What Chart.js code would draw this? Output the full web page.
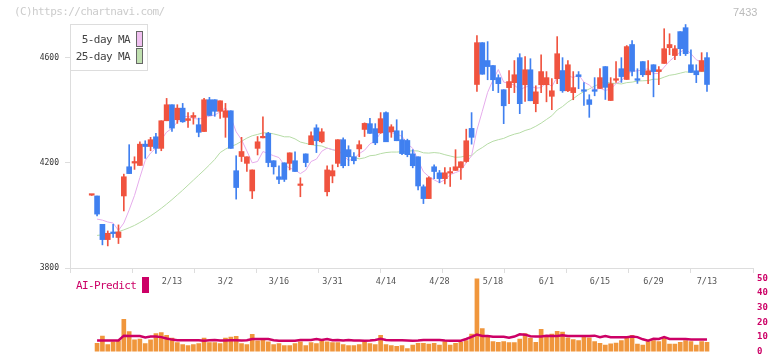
<!DOCTYPE html>
<html>
<head>
<meta charset="utf-8">
<script src="https://cdn.jsdelivr.net/npm/chart.js@4.4.1/dist/chart.umd.min.js"></script>
<style>
  body { margin: 0; background: #fff; }
  #wrap { position: relative; width: 772px; height: 361px; overflow: hidden; }
  canvas { position: absolute; left: 0; }
  .txt { position: absolute; font-family: 'DejaVu Sans Mono', monospace; font-size: 11px; line-height: 12px; letter-spacing: -0.6px; white-space: nowrap; }
  .sw { position: absolute; box-sizing: border-box; width: 7px; height: 16px; border: 1px solid #666; }
</style>
</head>
<body>
<div id="wrap">
  <canvas id="main" width="772" height="300" style="top:0"></canvas>
  <canvas id="vol" width="772" height="99" style="top:262px"></canvas>

  <div class="txt" style="left:14px;top:6px;color:#ccc">(C)https://chartnavi.com/</div>
  <div style="position:absolute;left:733px;top:6px;font-family:'Liberation Sans',sans-serif;font-size:11px;color:#bbb">7433</div>

  <div style="position:absolute;left:70px;top:24px;width:78px;height:47px;box-sizing:border-box;border:1px solid #ddd;background:#fff"></div>
  <div class="txt" style="left:0;width:130px;text-align:right;top:34px;color:#444">5-day MA</div>
  <div class="txt" style="left:0;width:130px;text-align:right;top:51px;color:#444">25-day MA</div>
  <div class="sw" style="left:136px;top:31px;background:#f0c0f0"></div>
  <div class="sw" style="left:136px;top:48px;background:#c0e0b0"></div>

  <div class="txt" style="left:76px;top:280px;color:#cc0066">AI-Predict</div>
  <div style="position:absolute;left:142px;top:277px;width:7px;height:16px;background:#cc0066"></div>
</div>
<script>
// tick labels under the price chart (index of the trading day -> label)
const tickDays = [15, 25, 35, 45, 55, 65, 75, 85, 95, 105, 115];
const tickLabels = ['2/13', '3/2', '3/16', '3/31', '4/14', '4/28', '5/18', '6/1', '6/15', '6/29', '7/13'];
const priceTicks = [3800, 4200, 4600];

const opens = [
  4077, 4074, 3966, 3908, 3937, 3916, 4074, 4185, 4199, 4190,
  4271, 4262, 4299, 4255, 4360, 4421, 4364, 4408, 4361, 4373,
  4345, 4319, 4440, 4440, 4396, 4373, 4398, 4170, 4224, 4198,
  4093, 4255, 4295, 4312, 4208, 4147, 4200, 4198, 4208, 4114,
  4234, 4269, 4333, 4280, 4090, 4150, 4198, 4288, 4250, 4223,
  4253, 4327, 4349, 4330, 4314, 4391, 4318, 4322, 4288, 4285,
  4234, 4223, 4109, 4064, 4185, 4162, 4140, 4161, 4171, 4182,
  4205, 4331, 4498, 4657, 4589, 4570, 4524, 4478, 4486, 4505,
  4600, 4497, 4554, 4425, 4497, 4497, 4453, 4520, 4551, 4474,
  4467, 4535, 4478, 4440, 4478, 4483, 4566, 4437, 4514, 4558,
  4517, 4650, 4520, 4585, 4535, 4573, 4547, 4578, 4638, 4608,
  4699, 4714, 4573, 4550, 4548, 4600
];
const highs = [
  4079, 4074, 3966, 3941, 3966, 3964, 4157, 4269, 4223, 4280,
  4284, 4297, 4312, 4360, 4445, 4421, 4421, 4426, 4391, 4391,
  4370, 4445, 4449, 4440, 4436, 4426, 4398, 4227, 4297, 4223,
  4173, 4300, 4375, 4316, 4208, 4189, 4200, 4238, 4242, 4143,
  4234, 4318, 4345, 4330, 4189, 4192, 4288, 4295, 4265, 4239,
  4284, 4352, 4369, 4349, 4391, 4394, 4345, 4364, 4322, 4290,
  4250, 4223, 4116, 4147, 4192, 4171, 4182, 4182, 4250, 4204,
  4328, 4391, 4684, 4657, 4661, 4570, 4535, 4478, 4551, 4589,
  4615, 4604, 4596, 4493, 4611, 4547, 4520, 4680, 4600, 4589,
  4547, 4547, 4505, 4459, 4524, 4558, 4566, 4524, 4585, 4600,
  4646, 4665, 4558, 4585, 4589, 4573, 4566, 4710, 4691, 4646,
  4699, 4726, 4630, 4573, 4619, 4619
];
const lows = [
  4076, 3998, 3888, 3884, 3916, 3893, 4017, 4159, 4175, 4190,
  4217, 4246, 4236, 4246, 4360, 4319, 4350, 4354, 4335, 4347,
  4299, 4319, 4380, 4377, 4369, 4297, 4255, 4062, 4205, 4167,
  4064, 4230, 4295, 4185, 4157, 4121, 4129, 4173, 4167, 4071,
  4185, 4269, 4239, 4276, 4074, 4124, 4185, 4181, 4189, 4196,
  4223, 4300, 4312, 4269, 4312, 4280, 4297, 4284, 4231, 4223,
  4181, 4097, 4045, 4064, 4140, 4124, 4120, 4110, 4171, 4137,
  4202, 4271, 4472, 4537, 4516, 4474, 4467, 4349, 4425, 4467,
  4387, 4434, 4436, 4394, 4467, 4432, 4402, 4501, 4468, 4471,
  4440, 4482, 4418, 4373, 4455, 4483, 4441, 4437, 4506, 4506,
  4517, 4531, 4502, 4528, 4501, 4451, 4497, 4578, 4611, 4592,
  4608, 4608, 4544, 4505, 4548, 4472
];
const closes = [
  4077, 4005, 3908, 3932, 3931, 3937, 4147, 4159, 4205, 4271,
  4262, 4288, 4255, 4360, 4421, 4332, 4408, 4356, 4368, 4380,
  4316, 4440, 4380, 4396, 4436, 4398, 4255, 4106, 4243, 4223,
  4173, 4280, 4298, 4201, 4185, 4137, 4137, 4238, 4167, 4116,
  4201, 4303, 4284, 4318, 4173, 4170, 4288, 4189, 4223, 4208,
  4269, 4350, 4312, 4276, 4368, 4280, 4337, 4284, 4235, 4231,
  4189, 4112, 4064, 4143, 4167, 4140, 4162, 4163, 4185, 4204,
  4284, 4297, 4657, 4537, 4566, 4516, 4501, 4417, 4509, 4535,
  4425, 4554, 4436, 4470, 4547, 4524, 4474, 4615, 4474, 4573,
  4486, 4528, 4472, 4422, 4472, 4524, 4487, 4501, 4520, 4528,
  4642, 4548, 4514, 4535, 4550, 4547, 4554, 4634, 4650, 4634,
  4634, 4615, 4544, 4535, 4589, 4498
];
const ma5 = [
  null, 3986, 3982, 3975, 3971, 3943, 3971, 4021, 4076, 4144,
  4209, 4237, 4256, 4287, 4317, 4331, 4355, 4375, 4377, 4369,
  4366, 4372, 4377, 4382, 4394, 4410, 4373, 4318, 4288, 4245,
  4200, 4205, 4243, 4235, 4227, 4220, 4192, 4180, 4173, 4159,
  4172, 4205, 4214, 4244, 4256, 4250, 4247, 4228, 4209, 4216,
  4235, 4248, 4272, 4283, 4315, 4317, 4315, 4309, 4301, 4273,
  4255, 4210, 4166, 4148, 4135, 4125, 4135, 4155, 4163, 4171,
  4200, 4227, 4325, 4396, 4468, 4515, 4555, 4507, 4502, 4496,
  4477, 4488, 4492, 4484, 4486, 4506, 4490, 4526, 4527, 4532,
  4524, 4535, 4507, 4496, 4476, 4484, 4475, 4481, 4501, 4512,
  4536, 4548, 4550, 4553, 4558, 4539, 4540, 4564, 4587, 4604,
  4621, 4633, 4615, 4592, 4583, 4556
];
const ma25 = [
  null, 3924, 3926, 3929, 3933, 3938, 3945, 3953, 3962, 3973,
  3985, 3998, 4012, 4027, 4043, 4060, 4078, 4096, 4115, 4134,
  4153, 4172, 4192, 4213, 4239, 4252, 4262, 4270, 4282, 4294,
  4303, 4308, 4314, 4314, 4310, 4305, 4299, 4299, 4291, 4279,
  4274, 4269, 4266, 4264, 4256, 4250, 4244, 4237, 4230, 4221,
  4215, 4219, 4227, 4229, 4235, 4239, 4241, 4241, 4242, 4244,
  4246, 4245, 4238, 4237, 4239, 4237, 4231, 4226, 4221, 4222,
  4227, 4227, 4246, 4258, 4272, 4282, 4288, 4293, 4302, 4309,
  4314, 4323, 4329, 4339, 4351, 4365, 4379, 4401, 4414, 4431,
  4444, 4459, 4471, 4481, 4492, 4501, 4509, 4503, 4502, 4500,
  4505, 4507, 4511, 4512, 4513, 4518, 4518, 4526, 4533, 4536,
  4541, 4546, 4544, 4546, 4547, 4547
];
const volume = [
  null, 5.6, 10.6, 4.8, 6.7, 7.4, 22, 13.7, 8.0, 8.6,
  5.5, 8.0, 12.4, 13.0, 11.2, 9.3, 6.1, 4.8, 4.2, 4.8,
  5.5, 9.3, 6.1, 6.1, 5.5, 9.3, 9.9, 10.5, 5.5, 4.8,
  11.8, 7.4, 8.6, 6.7, 4.8, 5.5, 4.2, 4.2, 5.5, 6.7,
  4.2, 6.1, 5.5, 8.0, 6.7, 6.1, 6.1, 4.8, 4.2, 4.2,
  4.8, 6.7, 5.5, 4.8, 11.2, 4.8, 4.2, 3.6, 4.2, 2.0,
  4.4, 5.7, 5.7, 5.1, 5.7, 4.4, 6.9, 4.4, 5.7, 6.3,
  7.6, 12.0, 58, 15.8, 10.7, 6.9, 6.3, 6.9, 6.1, 6.1,
  8.6, 12.4, 9.3, 6.3, 15.2, 10.7, 12.0, 13.9, 13.3, 9.5,
  8.2, 7.6, 10.1, 9.5, 6.9, 5.7, 4.4, 5.3, 5.9, 7.6,
  9.3, 11.2, 5.1, 4.4, 6.9, 7.6, 6.9, 9.3, 5.1, 5.1,
  6.3, 7.6, 6.9, 4.4, 6.9, 6.3
];
const aiPredict = [
  null, 7.6, 7.6, 7.6, 7.6, 7.6, 10.9, 10.7, 10.7, 10.7,
  9.7, 10.3, 10.3, 9.9, 9.0, 8.2, 7.8, 7.8, 7.8, 7.8,
  7.8, 7.4, 7.8, 8.0, 7.6, 7.6, 7.8, 7.8, 7.6, 7.8,
  8.6, 8.6, 8.6, 8.6, 7.8, 7.4, 7.4, 7.4, 7.4, 8.0,
  8.0, 8.0, 8.6, 8.0, 8.6, 7.8, 8.0, 7.6, 8.0, 7.6,
  7.6, 7.4, 7.6, 8.0, 8.8, 8.0, 7.8, 7.8, 7.8, 7.6,
  7.4, 7.6, 8.0, 8.0, 8.0, 8.0, 7.6, 7.4, 7.4, 7.4,
  8.6, 10.1, 11.6, 10.7, 10.7, 10.1, 10.1, 10.1, 9.5, 10.3,
  11.8, 11.6, 10.5, 10.3, 10.3, 10.9, 10.7, 10.7, 11.2, 10.7,
  10.7, 10.7, 10.7, 10.7, 10.9, 9.9, 10.7, 9.9, 9.9, 9.9,
  9.9, 10.3, 9.9, 8.4, 7.4, 8.8, 8.6, 9.9, 8.6, 8.6,
  8.6, 8.6, 8.2, 8.2, 8.2, 8.2
];

const UP = '#f0533f';
const DOWN = '#4080f0';
const MONO = "'DejaVu Sans Mono', monospace";
// x range in trading-day index units, so both panels line up
const X_MIN = -4.06, X_MAX = 123.6;

const pts = arr => arr.map((v, i) => ({ x: i, y: v }));
const candleColor = closes.map((c, i) => (c >= opens[i] ? UP : DOWN));

new Chart(document.getElementById('main'), {
  type: 'bar',
  data: {
    datasets: [
      {
        label: 'body',
        data: opens.map((o, i) => ({ x: i, y: [o, closes[i]] })),
        backgroundColor: candleColor,
        barThickness: 5,
        minBarLength: 1.5,
        grouped: false,
        order: 0
      },
      {
        label: 'wick',
        data: highs.map((h, i) => ({ x: i, y: [lows[i], h] })),
        backgroundColor: candleColor,
        barThickness: 1,
        grouped: false,
        order: 1
      },
      {
        type: 'line',
        label: '5-day MA',
        data: pts(ma5),
        borderColor: '#e6acec',
        borderWidth: 1,
        pointRadius: 0,
        order: 2
      },
      {
        type: 'line',
        label: '25-day MA',
        data: pts(ma25),
        borderColor: '#b6dca6',
        borderWidth: 1,
        pointRadius: 0,
        order: 3
      }
    ]
  },
  options: {
    responsive: false,
    animation: false,
    devicePixelRatio: 1,
    layout: { padding: { left: 0, right: 19, top: 24, bottom: 7 } },
    plugins: { legend: { display: false }, tooltip: { enabled: false } },
    scales: {
      x: {
        type: 'linear',
        min: X_MIN,
        max: X_MAX,
        offset: false,
        weight: 1,
        afterBuildTicks: s => { s.ticks = tickDays.map(v => ({ value: v })); },
        afterFit: s => { s.height = 20; },
        grid: { display: false, drawTicks: false, offset: false },
        border: { display: false },
        ticks: {
          autoSkip: false,
          maxRotation: 0,
          padding: 4,
          color: '#555',
          font: { family: MONO, size: 8.5 },
          callback: (v, i) => tickLabels[i]
        }
      },
      xt: {
        type: 'linear',
        position: 'bottom',
        min: 0,
        max: 11,
        offset: false,
        weight: 0,
        afterFit: s => { s.height = 5; },
        grid: { drawOnChartArea: false, drawTicks: true, tickLength: 5, color: '#ddd', offset: false },
        border: { display: true, color: '#ddd' },
        ticks: { display: false, stepSize: 1 }
      },
      y: {
        min: 3800,
        max: 4728,
        afterBuildTicks: s => { s.ticks = priceTicks.map(v => ({ value: v })); },
        afterFit: s => { s.width = 70; },
        grid: { drawOnChartArea: false, tickLength: 5, color: '#ddd' },
        border: { color: '#ddd' },
        ticks: { padding: 6, color: '#333', font: { family: MONO, size: 8 }, callback: v => String(v) }
      }
    }
  }
});

new Chart(document.getElementById('vol'), {
  type: 'bar',
  data: {
    datasets: [
      {
        type: 'line',
        label: 'AI-Predict',
        data: pts(aiPredict),
        borderColor: '#cc0066',
        borderWidth: 2.5,
        pointRadius: 0,
        order: 0
      },
      {
        label: 'volume',
        data: pts(volume),
        backgroundColor: '#f0963c',
        barThickness: 4,
        grouped: false,
        order: 1
      }
    ]
  },
  options: {
    responsive: false,
    animation: false,
    devicePixelRatio: 1,
    layout: { padding: { left: 70, right: 0, top: 16.5, bottom: 3.3 } },
    plugins: { legend: { display: false }, tooltip: { enabled: false } },
    scales: {
      x: { type: 'linear', min: X_MIN, max: X_MAX, offset: false, display: false, grid: { offset: false } },
      y: {
        position: 'right',
        min: 0,
        max: 50,
        afterFit: s => { s.width = 19; },
        grid: { display: false, drawTicks: false },
        border: { display: false },
        ticks: { stepSize: 10, padding: 4, color: '#cc0066', font: { family: MONO, size: 9, weight: 'bold' } }
      }
    }
  }
});
</script>
</body>
</html>
